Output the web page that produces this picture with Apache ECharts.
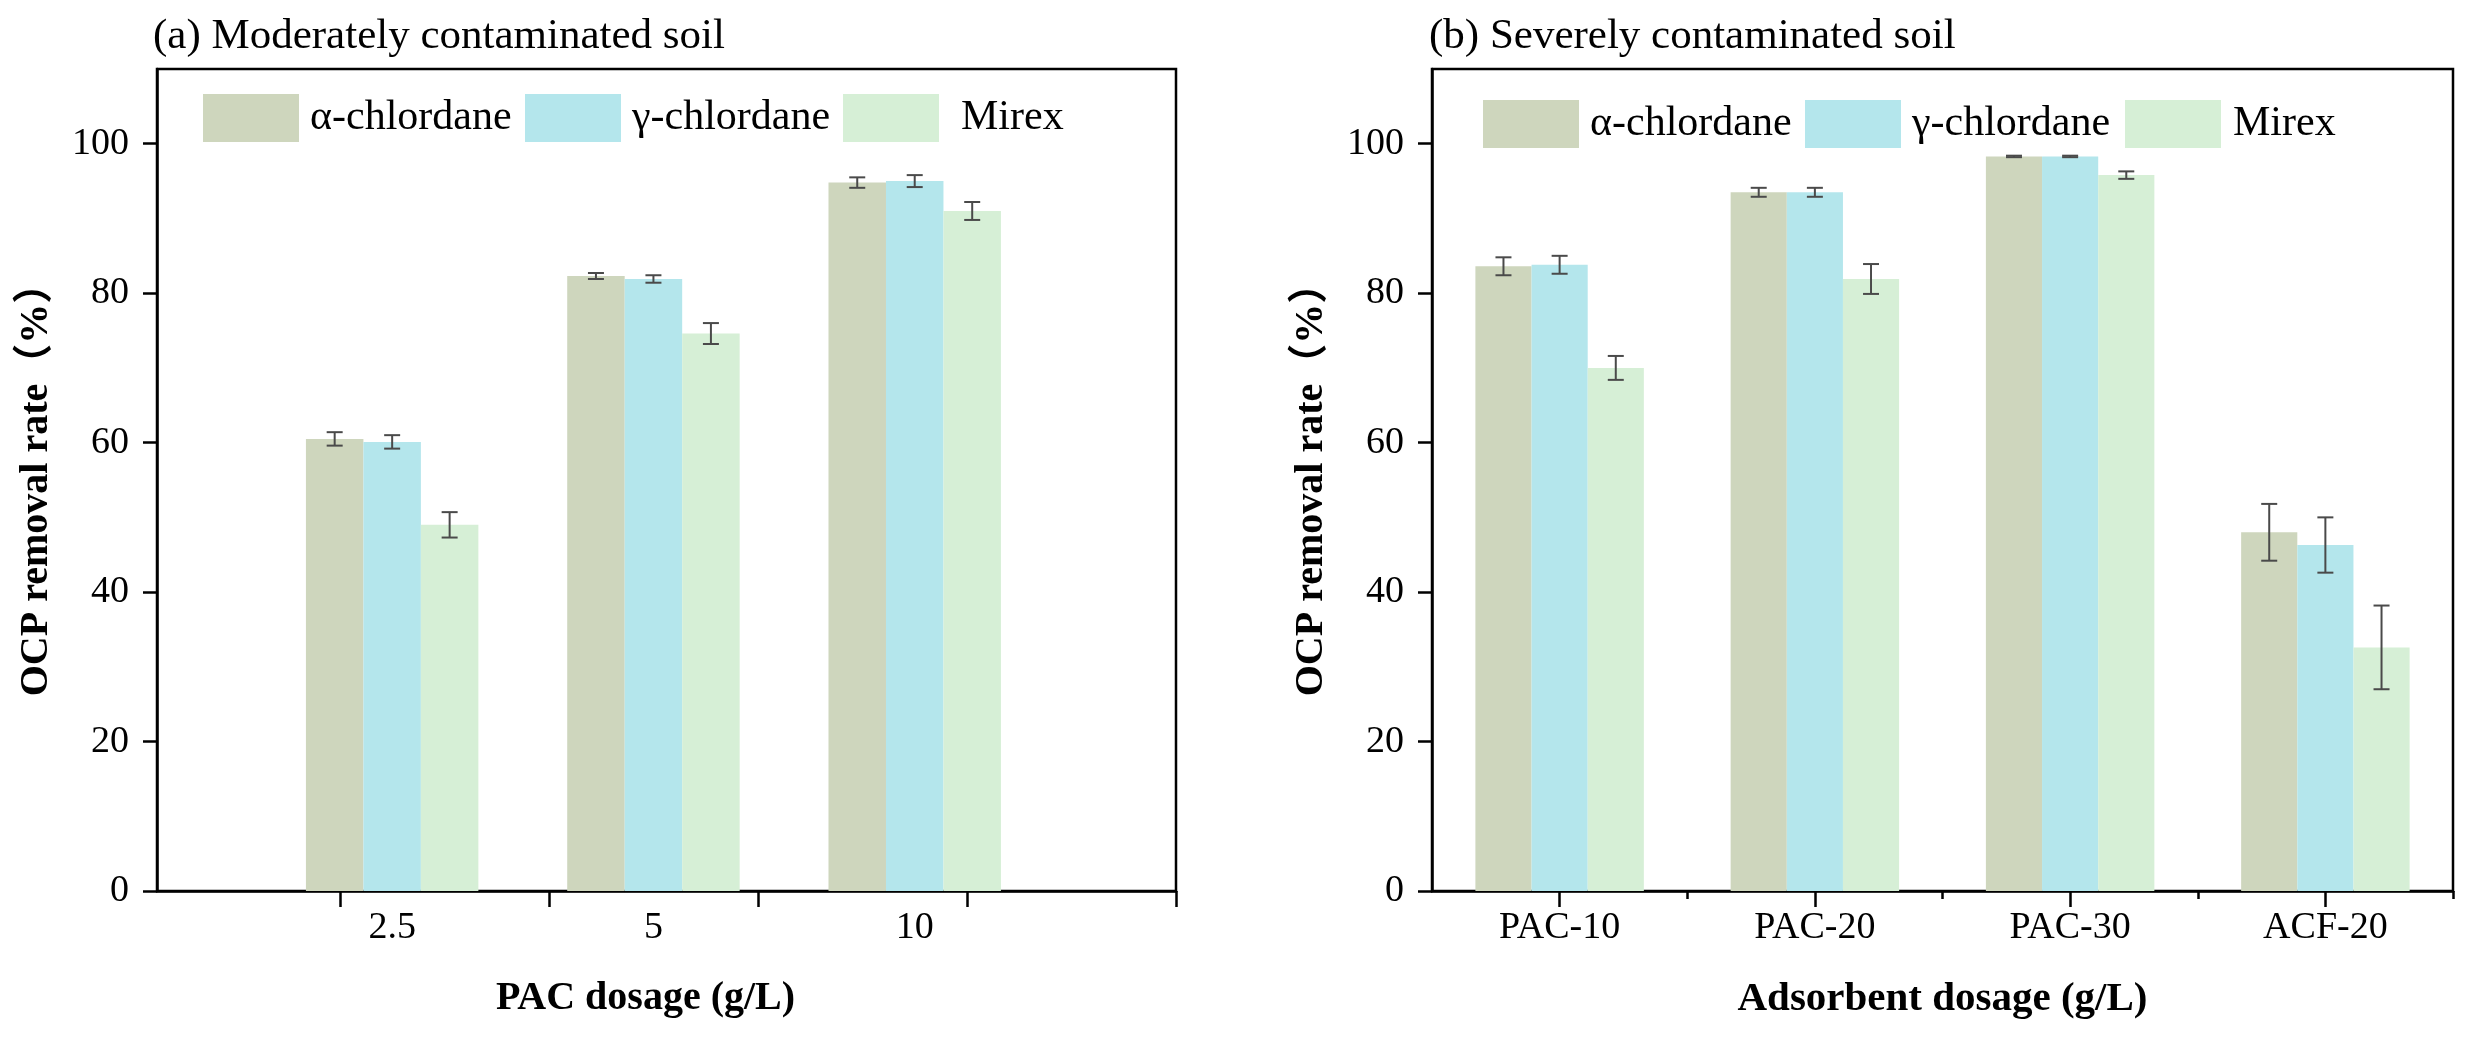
<!DOCTYPE html>
<html><head><meta charset="utf-8">
<script src="https://cdn.jsdelivr.net/npm/echarts@6/dist/echarts.min.js"></script>
<style>html,body{margin:0;padding:0;background:#fff}#c{width:2467px;height:1039px}</style>
</head><body><div id="c"></div>
<script>
// ---------- data ----------
const leftCategories = ['2.5', '5', '10'];
const rightCategories = ['PAC-10', 'PAC-20', 'PAC-30', 'ACF-20'];
const seriesNames = ['α-chlordane', 'γ-chlordane', 'Mirex'];
const yTickValues = [0, 20, 40, 60, 80, 100];

const leftAlpha = [60.5, 82.3, 94.8];
const leftAlphaErr = [0.9, 0.4, 0.7];
const leftGamma = [60.1, 81.9, 95.0];
const leftGammaErr = [0.9, 0.5, 0.8];
const leftMirex = [49.0, 74.6, 91.0];
const leftMirexErr = [1.7, 1.4, 1.2];

const rightAlpha = [83.6, 93.5, 98.3, 48.0];
const rightAlphaErr = [1.2, 0.6, 0.1, 3.8];
const rightGamma = [83.8, 93.5, 98.3, 46.3];
const rightGammaErr = [1.2, 0.6, 0.1, 3.7];
const rightMirex = [70.0, 81.9, 95.8, 32.6];
const rightMirexErr = [1.6, 2.0, 0.5, 5.6];

// ---------- style ----------
const FONT = "'Liberation Serif', 'Times New Roman', 'Noto Sans CJK SC', serif";
const COLORS = ['#CED6BD', '#B4E6EC', '#D6EFD6'];
const ERR_COLOR = '#4a4a4a';
const BAR_W = 0.22;   // in category units
const CAP = 8;        // px half width of error cap
const AXIS_W = 2.5;

function barSeries(name, idx, vals, errs, xAxisIndex, yAxisIndex) {
  return {
    type: 'custom',
    name: name,
    xAxisIndex: xAxisIndex,
    yAxisIndex: yAxisIndex,
    itemStyle: { color: COLORS[idx] },
    data: vals.map((v, i) => [i + 1, v, errs[i]]),
    encode: { x: 0, y: 1 },
    clip: false,
    renderItem: function (params, api) {
      const x = api.value(0), y = api.value(1), e = api.value(2);
      const cx = x + (idx - 1) * BAR_W;
      const tl = api.coord([cx - BAR_W / 2, y]);
      const br = api.coord([cx + BAR_W / 2, 0]);
      const top = api.coord([cx, y + e]);
      const bot = api.coord([cx, y - e]);
      const es = { stroke: ERR_COLOR, lineWidth: 2 };
      return {
        type: 'group',
        children: [
          { type: 'rect', shape: { x: tl[0], y: tl[1], width: br[0] - tl[0], height: br[1] - tl[1] },
            style: { fill: api.visual('color') } },
          { type: 'line', shape: { x1: top[0], y1: top[1], x2: bot[0], y2: bot[1] }, style: es },
          { type: 'line', shape: { x1: top[0] - CAP, y1: top[1], x2: top[0] + CAP, y2: top[1] }, style: es },
          { type: 'line', shape: { x1: bot[0] - CAP, y1: bot[1], x2: bot[0] + CAP, y2: bot[1] }, style: es }
        ]
      };
    }
  };
}

function yAxis(gridIndex) {
  return {
    type: 'value', gridIndex: gridIndex, min: 0, max: 110,
    name: 'OCP removal rate（%）', nameLocation: 'middle', nameGap: 100,
    nameTextStyle: { fontFamily: FONT, fontSize: 40, fontWeight: 'bold', color: '#000' },
    axisLine: { show: true, lineStyle: { color: '#000', width: AXIS_W } },
    axisTick: { show: true, inside: false, length: 14, customValues: yTickValues,
      lineStyle: { color: '#000', width: AXIS_W } },
    axisLabel: { customValues: yTickValues, margin: 28, fontFamily: FONT, fontSize: 38, color: '#000' },
    splitLine: { show: false }
  };
}

const legendLefts = [203, 525, 843, 1483, 1805, 2125];
const legendTops = [94, 94, 94, 100, 100, 100];
const legendTextPad = [6, 6, 17, 6, 6, 7];

const option = {
  backgroundColor: '#fff',
  animation: false,
  title: [
    { text: '(a) Moderately contaminated soil', left: 153, top: 15, padding: 0,
      textStyle: { fontFamily: FONT, fontSize: 43, fontWeight: 'normal', color: '#000' } },
    { text: '(b) Severely contaminated soil', left: 1429, top: 15, padding: 0,
      textStyle: { fontFamily: FONT, fontSize: 43, fontWeight: 'normal', color: '#000' } }
  ],
  legend: legendLefts.map((l, k) => ({
    data: [seriesNames[k % 3]], left: l, top: legendTops[k], padding: 0,
    itemWidth: 96, itemHeight: 48, icon: 'rect', selectedMode: false,
    textStyle: { fontFamily: FONT, fontSize: 42, color: '#000', padding: [0, 0, 0, legendTextPad[k]] }
  })),
  grid: [
    { left: 157, top: 69, width: 1019, height: 822, show: true, borderColor: '#000', borderWidth: AXIS_W, backgroundColor: 'transparent' },
    { left: 1432, top: 69, width: 1021, height: 822, show: true, borderColor: '#000', borderWidth: AXIS_W, backgroundColor: 'transparent' }
  ],
  xAxis: [
    { type: 'value', gridIndex: 0, min: 0.1, max: 4.0, position: 'bottom',
      name: 'PAC dosage (g/L)', nameLocation: 'middle', nameGap: 88,
      nameTextStyle: { fontFamily: FONT, fontSize: 40, fontWeight: 'bold', color: '#000', padding: [0, 42, 0, 0] },
      axisLine: { show: true, onZero: false, lineStyle: { color: '#000', width: AXIS_W } },
      axisTick: { show: true, length: 16, customValues: [0.8, 1.6, 2.4, 3.2, 4.0],
        lineStyle: { color: '#000', width: AXIS_W } },
      axisLabel: { customValues: [1, 2, 3], margin: 18, fontFamily: FONT, fontSize: 38, color: '#000',
        formatter: v => leftCategories[Math.round(v) - 1] || '' },
      splitLine: { show: false } },
    { type: 'value', gridIndex: 1, min: 0.5, max: 4.5, position: 'bottom',
      name: 'Adsorbent dosage (g/L)', nameLocation: 'middle', nameGap: 88,
      nameTextStyle: { fontFamily: FONT, fontSize: 41, fontWeight: 'bold', color: '#000' },
      axisLine: { show: true, onZero: false, lineStyle: { color: '#000', width: AXIS_W } },
      axisTick: { show: true, length: 16, customValues: [1, 2, 3, 4],
        lineStyle: { color: '#000', width: AXIS_W } },
      axisLabel: { customValues: [1, 2, 3, 4], margin: 18, fontFamily: FONT, fontSize: 38, color: '#000',
        formatter: v => rightCategories[Math.round(v) - 1] || '' },
      splitLine: { show: false } },
    { type: 'value', gridIndex: 1, min: 0.5, max: 4.5, position: 'bottom',
      axisLine: { show: false, onZero: false },
      axisTick: { show: true, length: 8, customValues: [1.5, 2.5, 3.5, 4.5],
        lineStyle: { color: '#000', width: AXIS_W } },
      axisLabel: { show: false },
      splitLine: { show: false } }
  ],
  yAxis: [yAxis(0), yAxis(1)],
  series: [
    barSeries(seriesNames[0], 0, leftAlpha, leftAlphaErr, 0, 0),
    barSeries(seriesNames[1], 1, leftGamma, leftGammaErr, 0, 0),
    barSeries(seriesNames[2], 2, leftMirex, leftMirexErr, 0, 0),
    barSeries(seriesNames[0], 0, rightAlpha, rightAlphaErr, 1, 1),
    barSeries(seriesNames[1], 1, rightGamma, rightGammaErr, 1, 1),
    barSeries(seriesNames[2], 2, rightMirex, rightMirexErr, 1, 1)
  ]
};

const chart = echarts.init(document.getElementById('c'));
chart.setOption(option);
</script>
</body></html>
